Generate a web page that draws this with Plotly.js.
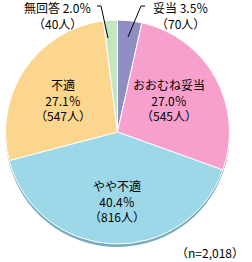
<!DOCTYPE html>
<html><head><meta charset="utf-8">
<script src="https://cdn.plot.ly/plotly-3.0.1.min.js"></script>
<style>html,body{margin:0;padding:0;background:#fff}</style>
</head><body>
<div id="chart" style="width:252px;height:262px"></div>
<script>
const categories = ['妥当', 'おおむね妥当', 'やや不適', '不適', '無回答'];
const percents = [3.5, 27.0, 40.4, 27.1, 2.0];
const counts = [70, 545, 816, 547, 40];
const total = 'n=2,018';
const colors = ['#8e8ec3', '#f8a0cd', '#9dd8e8', '#fcd68e', '#c3e6c0'];
const shadowColors = ['#6c6c99', '#c47ea3', '#78aebb', '#c8aa70', '#98b896'];

const W = 252, H = 262, cx = 117.5, cy = 132, r = 112, sh = 3;
function dom(dy) {
  return {x: [(cx - r) / W, (cx + r) / W], y: [(H - cy - dy - r) / H, (H - cy - dy + r) / H]};
}
const base = {type: 'pie', labels: categories, values: percents, sort: false,
  direction: 'clockwise', rotation: 0, textinfo: 'none', hoverinfo: 'none', showlegend: false};
const traces = [
  Object.assign({}, base, {domain: dom(sh), marker: {colors: shadowColors, line: {color: '#ffffff', width: 0}}}),
  Object.assign({}, base, {domain: dom(0), marker: {colors: colors, line: {color: '#ffffff', width: 1}}})
];

const font = {family: '"Noto Sans CJK JP", sans-serif', size: 12, color: '#000'};
function lbl(i, inline) {
  const p = percents[i].toFixed(1) + '％';
  const c = '（' + counts[i] + '人）';
  return inline ? categories[i] + ' ' + p + '<br>' + c : categories[i] + '<br>' + p + '<br>' + c;
}
const pos = [
  {x: 180, y: 16, inline: true},
  {x: 169, y: 100, inline: false},
  {x: 117, y: 201, inline: false},
  {x: 63, y: 100, inline: false},
  {x: 57, y: 15, inline: true}
];
const annotations = pos.map((p, i) => ({
  x: p.x / W, y: 1 - p.y / H, xref: 'paper', yref: 'paper', text: lbl(i, p.inline),
  showarrow: false, font: font, align: 'center', xanchor: 'center', yanchor: 'middle'
}));
annotations.push({x: 246 / W, y: 1 - 252 / H, xref: 'paper', yref: 'paper', text: '（' + total + '）',
  showarrow: false, font: font, xanchor: 'right', yanchor: 'middle'});

function px(x) { return x / W; } function py(y) { return 1 - y / H; }
const shapes = [
  {type: 'path', xref: 'paper', yref: 'paper', line: {color: '#000', width: 1},
   path: `M${px(145)},${py(6)} L${px(141)},${py(6)} L${px(128)},${py(37)}`},
  {type: 'path', xref: 'paper', yref: 'paper', line: {color: '#000', width: 1},
   path: `M${px(97)},${py(6)} L${px(101)},${py(6)} L${px(108)},${py(38)}`}
];

Plotly.newPlot('chart', traces, {
  width: W, height: H, margin: {l: 0, r: 0, t: 0, b: 0},
  paper_bgcolor: '#fff', annotations: annotations, shapes: shapes
}, {staticPlot: true});
</script>
</body></html>
